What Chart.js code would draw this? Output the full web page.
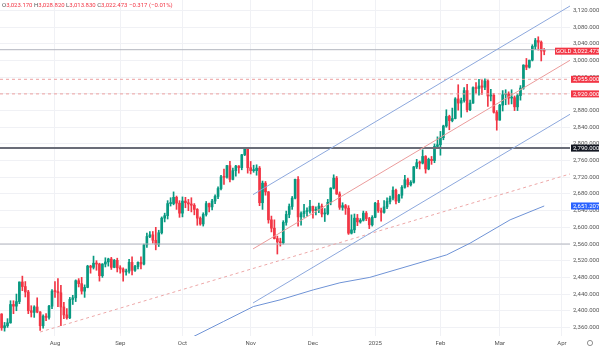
<!DOCTYPE html>
<html lang="en">
<head>
<meta charset="UTF-8">
<title>GOLD daily</title>
<script src="https://cdn.jsdelivr.net/npm/chart.js"></script>
<style>
  body { margin: 0; background: #fff; }
  canvas { display: block; }
</style>
</head>
<body>
<canvas id="myChart" width="600" height="350"></canvas>
<script>
// daily candles [open, high, low, close], 8 Jul 2024 -> 24 Mar 2025
const candles = [
  // Jul
  [2392,2393,2353,2359],[2359,2372,2351,2364],[2364,2381,2360,2371],[2371,2424,2370,2415],[2415,2424,2393,2411],
  [2411,2440,2400,2422],[2422,2469,2417,2469],[2469,2483,2448,2458],[2458,2470,2433,2445],[2445,2449,2393,2400],
  [2400,2412,2385,2396],[2396,2412,2384,2409],[2409,2431,2395,2397],[2397,2398,2353,2364],[2364,2390,2358,2387],
  [2387,2393,2376,2384],[2384,2413,2380,2411],[2411,2451,2405,2447],
  // Aug
  [2447,2470,2432,2446],[2446,2477,2410,2443],[2443,2461,2364,2409],[2409,2420,2381,2390],[2390,2405,2380,2383],
  [2383,2432,2381,2427],[2427,2437,2415,2431],[2431,2474,2422,2472],[2472,2477,2457,2465],[2465,2480,2440,2447],
  [2447,2462,2432,2456],[2456,2509,2455,2507],[2507,2509,2490,2504],[2504,2531,2500,2514],[2514,2520,2497,2512],
  [2512,2514,2471,2484],[2484,2513,2480,2512],[2512,2527,2505,2517],[2517,2526,2507,2524],[2524,2528,2499,2504],
  [2504,2523,2503,2521],[2521,2526,2493,2503],
  // Sep
  [2503,2508,2490,2500],[2500,2503,2471,2493],[2493,2500,2485,2495],[2495,2523,2490,2516],[2516,2529,2486,2497],
  [2497,2509,2494,2506],[2506,2517,2500,2516],[2516,2529,2500,2512],[2512,2560,2510,2558],[2558,2586,2552,2578],
  [2578,2590,2575,2582],[2582,2590,2562,2569],[2569,2600,2546,2559],[2559,2593,2554,2587],[2587,2625,2584,2622],
  [2622,2634,2613,2628],[2628,2664,2620,2657],[2657,2671,2651,2657],[2657,2685,2654,2672],[2672,2675,2643,2658],
  [2658,2664,2624,2634],
  // Oct
  [2634,2673,2625,2663],[2663,2672,2647,2659],[2659,2667,2640,2656],[2656,2671,2637,2653],[2653,2657,2630,2643],
  [2643,2645,2605,2622],[2622,2625,2605,2608],[2608,2635,2603,2631],[2631,2662,2627,2657],[2657,2658,2637,2649],
  [2649,2667,2642,2663],[2663,2678,2657,2674],[2674,2697,2669,2693],[2693,2725,2690,2721],[2721,2740,2703,2720],
  [2720,2749,2718,2748],[2748,2758,2709,2715],[2715,2742,2714,2736],[2736,2749,2723,2747],[2747,2748,2730,2743],
  [2743,2775,2738,2774],[2774,2790,2772,2788],[2788,2790,2730,2743],
  // Nov
  [2743,2758,2728,2736],[2736,2749,2732,2736],[2736,2750,2725,2742],[2742,2746,2652,2659],[2659,2711,2643,2706],
  [2706,2710,2677,2685],[2685,2686,2610,2618],[2618,2627,2589,2598],[2598,2618,2572,2573],[2573,2579,2536,2565],
  [2565,2574,2555,2563],[2563,2616,2560,2612],[2612,2639,2605,2631],[2631,2656,2623,2650],[2650,2674,2643,2670],
  [2670,2716,2668,2715],[2715,2722,2603,2625],[2625,2637,2605,2633],[2633,2655,2624,2638],[2638,2647,2627,2639],
  [2639,2665,2634,2650],
  // Dec
  [2650,2651,2622,2640],[2640,2649,2630,2643],[2643,2658,2635,2651],[2651,2656,2625,2632],[2632,2645,2614,2633],
  [2633,2667,2630,2660],[2660,2695,2654,2694],[2694,2726,2692,2718],[2718,2722,2679,2680],[2680,2685,2643,2648],
  [2648,2659,2641,2652],[2652,2655,2631,2646],[2646,2652,2583,2586],[2586,2630,2584,2594],[2594,2632,2587,2622],
  [2622,2631,2604,2613],[2613,2621,2610,2617],[2617,2639,2615,2634],[2634,2638,2616,2621],[2621,2624,2597,2606],
  [2606,2628,2603,2624],
  // Jan
  [2624,2660,2623,2658],[2658,2665,2636,2640],[2640,2646,2615,2636],[2636,2664,2634,2649],[2649,2671,2645,2662],
  [2662,2675,2656,2670],[2670,2697,2666,2689],[2689,2692,2656,2663],[2663,2679,2659,2677],[2677,2700,2670,2696],
  [2696,2725,2694,2714],[2714,2718,2697,2702],[2702,2712,2699,2708],[2708,2746,2706,2745],[2745,2763,2741,2755],
  [2755,2759,2740,2754],[2754,2786,2752,2770],[2770,2772,2730,2740],[2740,2766,2738,2763],[2763,2770,2751,2760],
  [2760,2800,2755,2794],[2794,2817,2790,2798],
  // Feb
  [2798,2830,2773,2815],[2815,2845,2810,2843],[2843,2882,2840,2866],[2866,2869,2834,2856],[2856,2886,2853,2861],
  [2861,2911,2860,2908],[2908,2942,2881,2898],[2898,2910,2864,2904],[2904,2935,2900,2928],[2928,2943,2877,2882],
  [2882,2905,2880,2898],[2898,2937,2897,2935],[2935,2947,2922,2933],[2933,2955,2917,2939],[2939,2954,2919,2936],
  [2936,2956,2930,2951],[2951,2953,2890,2915],[2915,2931,2903,2917],[2917,2921,2874,2876],[2876,2880,2833,2857],
  // Mar
  [2857,2895,2857,2893],[2893,2928,2879,2918],[2918,2930,2894,2920],[2920,2925,2895,2910],[2910,2930,2896,2911],
  [2911,2915,2880,2889],[2889,2920,2880,2916],[2916,2940,2905,2934],[2934,2990,2931,2989],[2989,3005,2978,2984],
  [2984,3001,2982,3001],[3001,3038,2999,3034],[3034,3053,3026,3048],[3048,3057,3025,3044],[3044,3047,2999,3023],
  [3023.17,3028.82,3013.83,3022.473]
];

const monthTicks = [18, 40, 61, 84, 105, 126, 148, 168, 189];
const monthLabels = ['Aug', 'Sep', 'Oct', 'Nov', 'Dec', '2025', 'Feb', 'Mar', 'Apr'];
const priceTicks = [2360, 2400, 2440, 2480, 2520, 2560, 2600, 2640, 2680, 2720, 2760, 2800,
                    2840, 2880, 2920, 2960, 3000, 3040, 3080, 3120];

// drawings, [bar index, price]
const channelUpper = [[84.8, 2678.5], [191.7, 3130.8]];
const channelMid = [[84.8, 2548.3], [191.7, 3000.6]];
const channelLower = [[84.8, 2418.6], [191.7, 2871.1]];
const trendDashed = [[13, 2349], [191.7, 2728]];
const maLine = [[61.9, 2327], [64.7, 2338], [74.8, 2374], [84.9, 2410], [93.9, 2426], [105.1, 2450],
                [114.1, 2467], [124.2, 2480], [150.1, 2534], [158, 2562], [171.5, 2618], [183, 2651.207]];
const topLine = 3026;
const redLevels = [2955, 2920];
const keyLevel = 2790;
const supportLevel = 2560;
const lastPrice = 3022.473;
const maLast = 2651.207;
const headerChange = '\u22120.317 (\u22120.01%)';

const X_MIN = -0.54, X_MAX = 191.7;
const UP = '#089981', DOWN = '#f23645';

const pts = arr => arr.map(p => ({ x: p[0], y: p[1] }));
const hline = v => [{ x: X_MIN, y: v }, { x: X_MAX, y: v }];
const candleColors = candles.map(c => c[3] >= c[0] ? UP : DOWN);

function lineSet(data, color, width, dash, order) {
    return {
        type: 'line', data: data, borderColor: color, borderWidth: width,
        borderDash: dash || [], pointRadius: 0, fill: false, tension: 0, order: order
    };
}

const fmt = v => v.toLocaleString('en-US', { minimumFractionDigits: 3, maximumFractionDigits: 3 });

const overlay = {
    id: 'overlay',
    afterDraw(chart) {
        const ctx = chart.ctx;
        const y = chart.scales.y;
        ctx.save();
        ctx.font = '6px Roboto';
        ctx.textBaseline = 'middle';

        // header OHLC
        const last = candles[candles.length - 1];
        const parts = [['O', '#555'], [fmt(last[0]) + ' ', DOWN], ['H', '#555'], [fmt(last[1]) + ' ', DOWN],
                       ['L', '#555'], [fmt(last[2]) + ' ', DOWN], ['C', '#555'], [fmt(last[3]) + ' ', DOWN],
                       [headerChange, DOWN]];
        let hx = 2;
        parts.forEach(p => {
            ctx.fillStyle = p[1];
            ctx.fillText(p[0], hx, 5);
            hx += ctx.measureText(p[0]).width;
        });

        // price tags on the right scale
        const tags = [[redLevels[0], DOWN], [redLevels[1], DOWN], [keyLevel, '#131722'],
                      [maLast, '#2962ff'], [lastPrice, DOWN]];
        tags.forEach(t => {
            const py = y.getPixelForValue(t[0]);
            ctx.fillStyle = t[1];
            ctx.fillRect(571, py - 3.5, 28, 7);
            ctx.fillStyle = '#fff';
            ctx.fillText(fmt(t[0]), 573, py + 0.3);
        });
        const gy = y.getPixelForValue(lastPrice);
        ctx.fillStyle = DOWN;
        ctx.fillRect(555, gy - 3.5, 16, 7);
        ctx.fillStyle = '#fff';
        ctx.fillText('GOLD', 556, gy + 0.3);

        // settings icon
        ctx.strokeStyle = '#777';
        ctx.lineWidth = 0.8;
        ctx.beginPath();
        ctx.arc(590, 343, 2.6, 0, Math.PI * 2);
        ctx.stroke();
        ctx.restore();
    }
};

const ctx = document.getElementById('myChart').getContext('2d');
new Chart(ctx, {
    type: 'bar',
    data: {
        datasets: [
            lineSet(hline(topLine), '#b2b5be', 1, null, 1),
            lineSet(hline(redLevels[0]), '#eda0a0', 1, [3, 3], 1),
            lineSet(hline(redLevels[1]), '#eda0a0', 1, [3, 3], 1),
            lineSet(hline(keyLevel), '#6a6d78', 2, null, 1),
            lineSet(hline(supportLevel), '#b2b5be', 1, null, 1),
            lineSet(pts(channelUpper), '#8da8dd', 1, null, 0),
            lineSet(pts(channelMid), '#eb9c9c', 1, null, 0),
            lineSet(pts(channelLower), '#8da8dd', 1, null, 0),
            lineSet(pts(trendDashed), '#eda8a8', 1, [3, 3], 0),
            lineSet(pts(maLine), '#6f93d6', 1, null, 0),
            {
                // wicks
                data: candles.map((c, i) => ({ x: i, y: [c[2], c[1]] })),
                backgroundColor: candleColors, barThickness: 1, grouped: false, order: 3
            },
            {
                // bodies
                data: candles.map((c, i) => ({ x: i, y: [c[0], c[3]] })),
                backgroundColor: candleColors, barThickness: 2, minBarLength: 1, grouped: false, order: 2
            }
        ]
    },
    options: {
        responsive: false,
        animation: false,
        layout: { padding: 0 },
        plugins: { legend: { display: false }, tooltip: { enabled: false } },
        scales: {
            x: {
                type: 'linear', min: X_MIN, max: X_MAX, offset: false,
                grid: { color: '#f0f1f5', drawTicks: false, offset: false },
                border: { display: false },
                afterBuildTicks: s => { s.ticks = monthTicks.map(v => ({ value: v })); },
                afterFit: s => { s.height = 14; s.paddingLeft = 0; s.paddingRight = 0; },
                ticks: {
                    autoSkip: false, maxRotation: 0, padding: 4, color: '#555',
                    font: { family: 'Roboto', size: 6 },
                    callback: v => monthLabels[monthTicks.indexOf(v)]
                }
            },
            y: {
                type: 'linear', position: 'right', min: 2339.4, max: 3145.2, beginAtZero: false,
                grid: { color: '#f0f1f5', drawTicks: false },
                border: { display: false },
                afterBuildTicks: s => { s.ticks = priceTicks.map(v => ({ value: v })); },
                afterFit: s => { s.width = 30; s.paddingTop = 0; s.paddingBottom = 0; },
                ticks: {
                    padding: 3, color: '#555',
                    font: { family: 'Roboto', size: 6 },
                    callback: v => fmt(v)
                }
            }
        }
    },
    plugins: [overlay]
});
</script>
</body>
</html>
